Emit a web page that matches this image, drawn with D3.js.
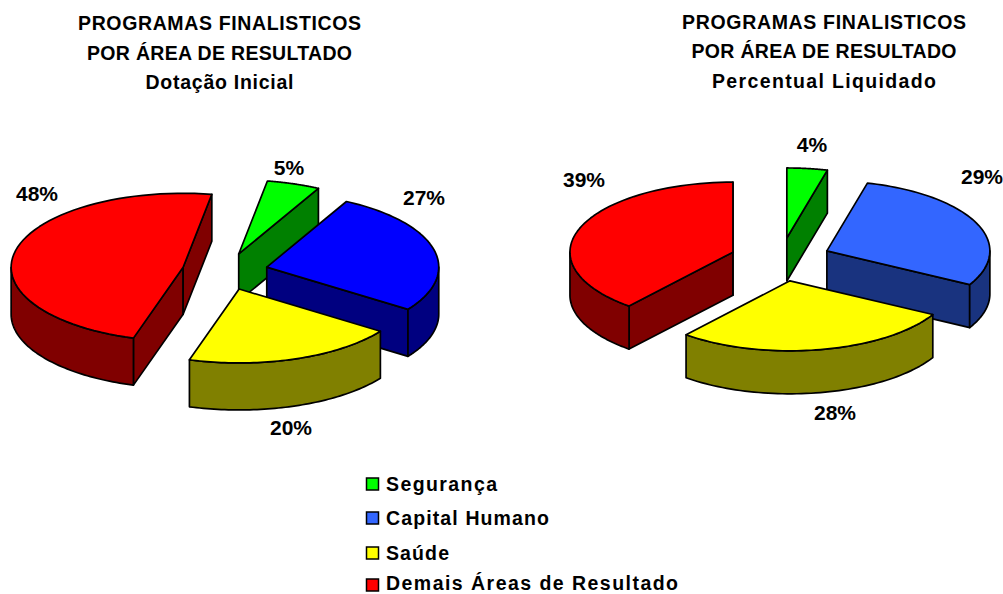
<!DOCTYPE html>
<html><head><meta charset="utf-8">
<script src="https://cdn.jsdelivr.net/npm/d3@7"></script>
<style>
html,body{margin:0;padding:0;background:#fff}
svg{display:block}
text{font-family:"Liberation Sans",Arial,sans-serif;font-weight:bold;fill:#000}
</style></head><body>
<svg id="c" width="1003" height="594"></svg>
<script>
const categories = ["Segurança","Capital Humano","Saúde","Demais Áreas de Resultado"];
const valuesInicial = [5,27,20,48];
const valuesLiquidado = [4,29,28,39];
const titleLines = ["PROGRAMAS FINALISTICOS","POR ÁREA DE RESULTADO"];
const subtitles = ["Dotação Inicial","Percentual Liquidado"];
const topColorsA = ["#00ff00","#0000ff","#ffff00","#ff0000"];
const sideColorsA = ["#008000","#000080","#808000","#800000"];
const topColorsB = ["#00ff00","#3366ff","#ffff00","#ff0000"];
const sideColorsB = ["#008000","#19337f","#808000","#800000"];

const charts = [
 {values:valuesInicial,top:topColorsA,side:sideColorsA,cx:225,cy:271.5,rx:172,ry:74,depth:47,explode:.25,rot:9.6,
  titleX:219.5,titleY:[29.5,59.5,88.5],titleW:[283,265,148],sub:subtitles[0],labels:[[289,175],[424,205],[291,435],[37,201]]},
 {values:valuesLiquidado,top:topColorsB,side:sideColorsB,cx:780.5,cy:259.5,rx:163,ry:70,depth:43,explode:.31,rot:0,
  titleX:824,titleY:[28.5,57.5,87.5],titleW:[284,265,224],sub:subtitles[1],labels:[[812,152],[982,184],[835,420],[584,187]]}
];
const legendW=[111,163,63,292];
const legendRows=[484,518,553,585];

const svg = d3.select("#c");
const rad = d=>d*Math.PI/180, TAU=2*Math.PI;
const line = d3.line();

charts.forEach(ch=>{
  const x = d3.scaleLinear().domain([-1,1]).range([-ch.rx,ch.rx]);
  const y = d3.scaleLinear().domain([-1,1]).range([-ch.ry,ch.ry]);
  const pie = d3.pie().sort(null).startAngle(rad(ch.rot)).endAngle(rad(ch.rot)+TAU);
  const arcs = pie(ch.values).map((a,i)=>{
    const mid=(a.startAngle+a.endAngle)/2;
    const ax=ch.cx+ch.explode*x(Math.sin(mid)), ay=ch.cy+ch.explode*y(-Math.cos(mid));
    return {...a,i,ax,ay};
  }).sort((p,q)=>p.ay-q.ay);

  const rim=(a,t)=>[a.ax+x(Math.sin(t)),a.ay+y(-Math.cos(t))];
  const sample=(a,t0,t1)=>d3.range(0,61).map(k=>rim(a,t0+(t1-t0)*k/60));

  const g=svg.append("g");
  arcs.forEach(a=>{
    const s=g.append("g");
    const face=pts=>s.append("path").attr("d",line(pts)+"Z").attr("fill",ch.side[a.i])
      .attr("stroke","#000").attr("stroke-width",1.7).attr("stroke-linejoin","round");
    const down=p=>[p[0],p[1]+ch.depth];
    if(Math.sin(a.startAngle)<0){const r=rim(a,a.startAngle),o=[a.ax,a.ay];face([o,r,down(r),down(o)]);}
    if(Math.sin(a.endAngle)>0){const r=rim(a,a.endAngle),o=[a.ax,a.ay];face([o,r,down(r),down(o)]);}
    [[Math.PI/2,1.5*Math.PI],[2.5*Math.PI,3.5*Math.PI]].forEach(([f0,f1])=>{
      const t0=Math.max(a.startAngle,f0),t1=Math.min(a.endAngle,f1);
      if(t1>t0){const top=sample(a,t0,t1);face(top.concat(top.map(down).reverse()));}
    });
    s.append("path").attr("d",line([[a.ax,a.ay]].concat(sample(a,a.startAngle,a.endAngle)))+"Z")
      .attr("fill",ch.top[a.i]).attr("stroke","#000").attr("stroke-width",1.7).attr("stroke-linejoin","round");
  });

  titleLines.concat([ch.sub]).forEach((t,i)=>{
    svg.append("text").attr("x",ch.titleX).attr("y",ch.titleY[i]).attr("text-anchor","middle")
      .attr("font-size",19.5).attr("textLength",ch.titleW[i]).attr("lengthAdjust","spacing").text(t);
  });
  ch.values.forEach((v,i)=>{
    svg.append("text").attr("x",ch.labels[i][0]).attr("y",ch.labels[i][1]).attr("text-anchor","middle")
      .attr("font-size",21).text(v+"%");
  });
});

const legendY=d3.scaleOrdinal().domain(categories).range(legendRows);
categories.forEach((c,i)=>{
  const yy=legendY(c);
  svg.append("rect").attr("x",366.5).attr("y",yy-6).attr("width",12).attr("height",12)
    .attr("fill",topColorsB[i]).attr("stroke","#000").attr("stroke-width",1.5);
  svg.append("text").attr("x",386).attr("y",Math.min(yy+7,589.8)).attr("font-size",19.5)
    .attr("textLength",legendW[i]).attr("lengthAdjust","spacing").text(c);
});
</script>
</body></html>
